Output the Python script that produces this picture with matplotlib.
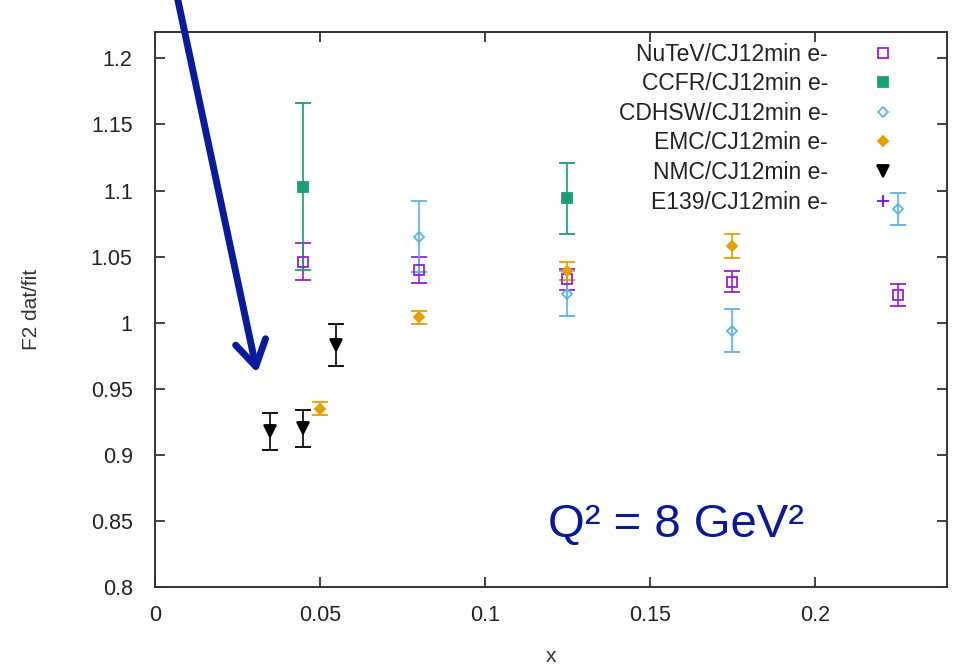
import matplotlib.pyplot as plt
from matplotlib.lines import Line2D

plt.rcParams['font.family'] = ['Liberation Sans', 'DejaVu Sans']

# F2 data / CJ12min fit ratios at Q^2 = 8 GeV^2
nutev_x = [0.045, 0.08, 0.125, 0.175, 0.225]
nutev_y = [1.046, 1.040, 1.033, 1.031, 1.021]
nutev_e = [0.014, 0.010, 0.008, 0.008, 0.008]

ccfr_x = [0.045, 0.125]
ccfr_y = [1.103, 1.094]
ccfr_e = [0.063, 0.027]

cdhsw_x = [0.08, 0.125, 0.175, 0.225]
cdhsw_y = [1.065, 1.022, 0.994, 1.086]
cdhsw_e = [0.027, 0.017, 0.016, 0.012]

emc_x = [0.05, 0.08, 0.125, 0.175]
emc_y = [0.935, 1.004, 1.039, 1.058]
emc_e = [0.005, 0.005, 0.007, 0.009]

nmc_x = [0.035, 0.045, 0.055]
nmc_y = [0.918, 0.920, 0.983]
nmc_e = [0.014, 0.014, 0.016]

e139_x = []
e139_y = []
e139_e = []

labels = ['NuTeV/CJ12min e-', 'CCFR/CJ12min e-', 'CDHSW/CJ12min e-',
          'EMC/CJ12min e-', 'NMC/CJ12min e-', 'E139/CJ12min e-']

xticks = [0, 0.05, 0.1, 0.15, 0.2]
yticks = [0.8, 0.85, 0.9, 0.95, 1.0, 1.05, 1.1, 1.15, 1.2]

sets = [
    (nutev_x, nutev_y, nutev_e, '#9b1fd6', 's', 'none', 7),
    (ccfr_x, ccfr_y, ccfr_e, '#1a9e77', 's', '#1a9e77', 7.5),
    (cdhsw_x, cdhsw_y, cdhsw_e, '#5ab4e8', 'D', 'none', 5.5),
    (emc_x, emc_y, emc_e, '#e69f00', 'D', '#e69f00', 5.5),
    (nmc_x, nmc_y, nmc_e, '#000000', 'v', '#000000', 9),
    (e139_x, e139_y, e139_e, '#9400d3', '+', '#9400d3', 9),
]

fig = plt.figure(figsize=(9.56, 6.69), dpi=100)
ax = fig.add_axes([0.162, 0.1226, 0.8286, 0.8296])

handles = []
for (x, y, e, c, m, fc, ms), lab in zip(sets, labels):
    if len(x):
        ax.errorbar(x, y, yerr=e, fmt=m, color=c, mfc=fc, mec=c, ms=ms,
                    mew=1.3, elinewidth=1.2, capsize=6, capthick=1.2)
    handles.append(Line2D([], [], linestyle='none', marker=m, color=c,
                          mfc=fc, mec=c, ms=ms, mew=1.3, label=lab))

ax.set_xlim(0, 0.24)
ax.set_ylim(0.8, 1.22)
ax.set_xticks(xticks)
ax.set_xticklabels(['%g' % t for t in xticks])
ax.set_yticks(yticks)
ax.set_yticklabels(['%g' % t for t in yticks])
ax.tick_params(direction='in', length=7, width=1.2, top=True, right=True,
               labelsize=15.5, colors='#222222')
ax.tick_params(axis='y', pad=16)
ax.tick_params(axis='x', pad=13)
for s in ax.spines.values():
    s.set_linewidth(1.4)
    s.set_color('#333333')

ax.set_xlabel('x', fontsize=15, color='#333333', labelpad=15)
ax.set_ylabel('F2 dat/fit', fontsize=15, color='#333333', labelpad=36)

# markers on the right, labels right-aligned against them
leg = ax.legend(handles=handles, loc='upper right', bbox_to_anchor=(0.948, 0.981),
                frameon=False, markerfirst=False, fontsize=16.5,
                handlelength=2, handletextpad=1.4, labelspacing=0.29,
                borderpad=0, borderaxespad=0)
for t in leg.get_texts():
    t.set_color('#222222')

ax.text(0.158, 0.847, 'Q² = 8 GeV²', fontsize=34, color='#0a1a96',
        ha='center', va='center')

ax.annotate('', xy=(0.031, 0.962), xytext=(0.0069, 1.245),
            xycoords='data', annotation_clip=False,
            arrowprops=dict(arrowstyle='->,head_length=0.9,head_width=0.55',
                            color='#0a1a9a', lw=5, mutation_scale=20,
                            shrinkA=0, shrinkB=0))

fig.savefig('out.png', dpi=100)
